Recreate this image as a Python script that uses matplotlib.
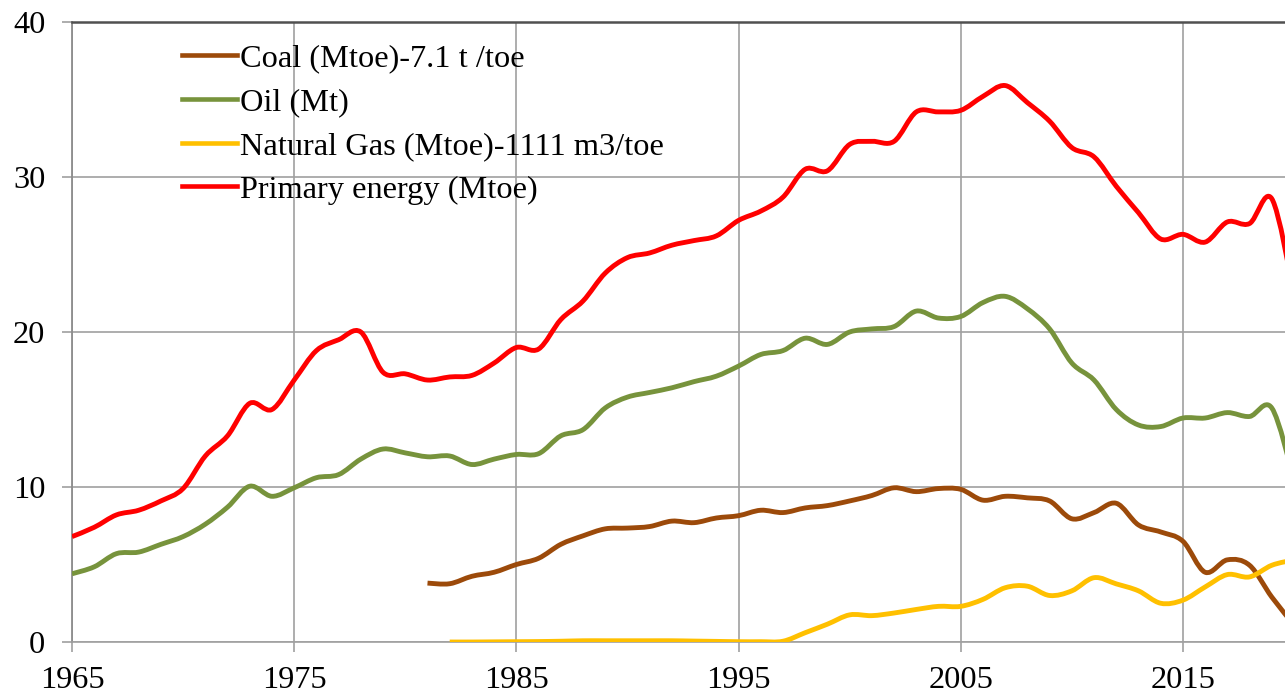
import matplotlib
matplotlib.use("Agg")
import matplotlib.pyplot as plt
from matplotlib.path import Path
from matplotlib.patches import PathPatch
from matplotlib.lines import Line2D

years_all = list(range(1965, 2021))
primary = [6.8, 7.4, 8.2, 8.5, 9.1, 9.9, 12.0, 13.3, 15.4, 15.0,
           16.9, 18.8, 19.5, 20.0, 17.4, 17.3, 16.9, 17.1, 17.2, 18.0,
           19.0, 18.9, 20.8, 22.0, 23.8, 24.8, 25.1, 25.6, 25.9, 26.2,
           27.2, 27.8, 28.7, 30.5, 30.4, 32.1, 32.3, 32.3, 34.2, 34.2,
           34.3, 35.2, 35.9, 34.8, 33.6, 31.9, 31.3, 29.4, 27.7, 26.0,
           26.3, 25.8, 27.1, 27.0, 28.6, 22.5]
oil = [4.4, 4.85, 5.7, 5.8, 6.3, 6.8, 7.6, 8.7, 10.05, 9.4,
       9.95, 10.6, 10.8, 11.8, 12.45, 12.2, 11.95, 12.0, 11.45, 11.8,
       12.1, 12.15, 13.3, 13.7, 15.1, 15.8, 16.1, 16.4, 16.8, 17.15,
       17.8, 18.55, 18.8, 19.6, 19.2, 20.0, 20.2, 20.35, 21.35, 20.9,
       21.0, 21.9, 22.3, 21.5, 20.2, 18.0, 16.9, 15.0, 14.0, 13.9,
       14.45, 14.45, 14.8, 14.55, 15.1, 10.5]
years_coal = list(range(1981, 2021))
coal = [3.8, 3.76, 4.24, 4.5, 5.0, 5.4, 6.3, 6.85, 7.3, 7.35,
        7.45, 7.8, 7.7, 8.0, 8.15, 8.5, 8.35, 8.65, 8.8, 9.1,
        9.45, 9.95, 9.7, 9.9, 9.85, 9.15, 9.4, 9.3, 9.1, 7.95,
        8.35, 8.95, 7.55, 7.1, 6.5, 4.5, 5.3, 4.95, 2.9, 1.1]
years_gas = list(range(1982, 2021))
gas = [0.0, 0.0, 0.01, 0.02, 0.03, 0.05, 0.08, 0.08, 0.08, 0.08,
       0.08, 0.06, 0.04, 0.02, 0.02, 0.05, 0.6, 1.15, 1.75, 1.7,
       1.87, 2.1, 2.3, 2.3, 2.75, 3.5, 3.6, 3.0, 3.3, 4.15,
       3.75, 3.3, 2.5, 2.7, 3.55, 4.35, 4.2, 4.95, 5.3]

labels = ["Coal (Mtoe)-7.1 t /toe", "Oil (Mt)",
          "Natural Gas (Mtoe)-1111 m3/toe", "Primary energy (Mtoe)"]
colors = ["#9C4A0A", "#77933C", "#FFC000", "#FF0000"]

x_ticks = [1965, 1975, 1985, 1995, 2005, 2015]
y_ticks = [0, 10, 20, 30, 40]

plt.rcParams['font.family'] = ['Liberation Serif', 'DejaVu Serif']
FS = 23.3


def smooth_path(xs, ys):
    """Excel-style smoothed line: cubic Bezier segments through the data points."""
    n = len(xs)
    verts = [(xs[0], ys[0])]
    codes = [Path.MOVETO]
    for i in range(n - 1):
        x0, y0 = xs[max(i - 1, 0)], ys[max(i - 1, 0)]
        x1, y1 = xs[i], ys[i]
        x2, y2 = xs[i + 1], ys[i + 1]
        x3, y3 = xs[min(i + 2, n - 1)], ys[min(i + 2, n - 1)]
        c1 = (x1 + (x2 - x0) / 6.0, y1 + (y2 - y0) / 6.0)
        c2 = (x2 - (x3 - x1) / 6.0, y2 - (y3 - y1) / 6.0)
        verts += [c1, c2, (x2, y2)]
        codes += [Path.CURVE4, Path.CURVE4, Path.CURVE4]
    return Path(verts, codes)


W, H = 1285, 693
fig = plt.figure(figsize=(W / 100, H / 100), dpi=100)
left, right, top, bottom = 72, 1294, 22, 642
ax = fig.add_axes([left / W, (H - bottom) / H, (right - left) / W, (bottom - top) / H])

series = [(years_coal, coal), (years_all, oil), (years_gas, gas), (years_all, primary)]
handles = []
for (xs, ys), c, lab in zip(series, colors, labels):
    patch = PathPatch(smooth_path(xs, ys), facecolor='none', edgecolor=c, lw=3.5,
                      joinstyle='round', capstyle='butt', zorder=3)
    ax.add_patch(patch)
    handles.append(Line2D([], [], color=c, lw=3.3, label=lab))

ax.set_xlim(1965, 2020)
ax.set_ylim(0, 40)
ax.set_xticks(x_ticks)
ax.set_yticks(y_ticks)
ax.grid(True, color="#a0a0a0", lw=1.2)
ax.set_axisbelow(True)

ax.spines["left"].set_color("#8c8c8c")
ax.spines["left"].set_linewidth(1.3)
ax.spines["top"].set_color("#505050")
ax.spines["top"].set_linewidth(1.8)
ax.spines["bottom"].set_color("#a0a0a0")
ax.spines["bottom"].set_linewidth(1.2)
ax.spines["right"].set_visible(False)

ax.tick_params(axis='both', direction='out', length=7.2, width=1.2, color="#a0a0a0",
               labelsize=FS, labelcolor="black")
ax.tick_params(axis='y', pad=12)
ax.tick_params(axis='x', pad=10)

leg = ax.legend(handles=handles, loc='upper left', bbox_to_anchor=(181.5 / W, 1 - 44 / H),
                bbox_transform=fig.transFigure, frameon=False, fontsize=FS,
                handlelength=1.72, handletextpad=0.09, labelspacing=0.434,
                borderpad=0, borderaxespad=0)

fig.savefig("out.png", dpi=100)
